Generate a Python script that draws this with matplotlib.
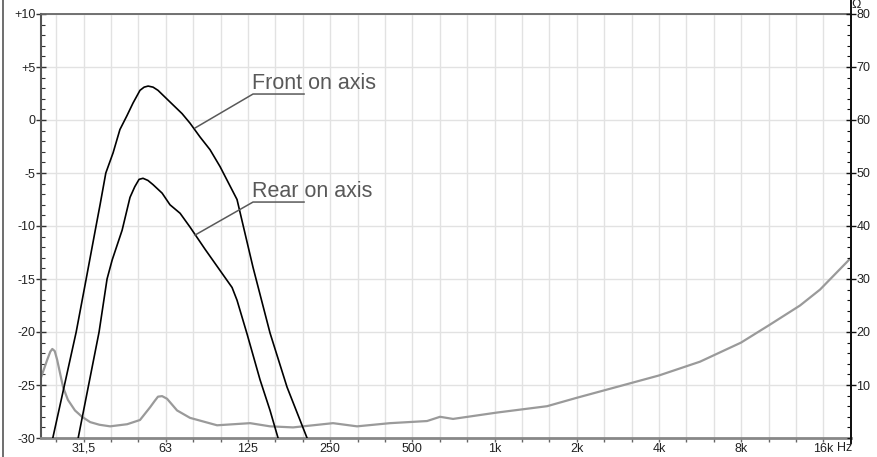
import matplotlib
matplotlib.use('Agg')
import matplotlib.pyplot as plt
from matplotlib.lines import Line2D
from matplotlib.ticker import MultipleLocator, FixedLocator

plt.rcParams['font.family'] = ['Liberation Sans', 'DejaVu Sans']

# frequency response, dB
front_freq = [24.3, 29.6, 32.2, 35.0, 36.2, 38.0, 40.4, 42.8, 45.4, 47.8, 50.7, 52.5, 54.3,
              56.6, 59.0, 65.3, 72.3, 77.3, 84.1, 91.5, 99.6, 114.9, 131.5, 151.8, 175.2, 207.4]
front_db = [-30, -20, -15, -10, -8, -5, -3.1, -0.9, 0.4, 1.6, 2.8, 3.1, 3.2,
            3.1, 2.8, 1.7, 0.6, -0.3, -1.6, -2.8, -4.4, -7.5, -13.9, -20.1, -25.2, -30]

rear_freq = [30.1, 35.9, 38.4, 40.1, 43.6, 46.6, 48.5, 50.3, 52.0, 54.2, 56.6, 61.1, 65.3,
             71.1, 77.3, 87.8, 99.6, 110.2, 114.9, 125.1, 139.5, 151.8, 162.4]
rear_db = [-30, -20, -15, -13.2, -10.4, -7.3, -6.3, -5.6, -5.5, -5.7, -6.1, -6.9, -8.0,
           -8.8, -10.1, -12.2, -14.2, -15.8, -17.0, -20.2, -24.5, -27.4, -30]

# impedance, ohm
imp_freq = [22.0, 23.2, 23.8, 24.2, 24.7, 25.2, 26.5, 27.6, 29.3, 31.1, 33.3, 36.0, 39.4,
            45.5, 50.7, 55.2, 57.4, 59.0, 61.1, 63.7, 69.3, 77.3, 97.1, 128.3, 151.8,
            184.3, 258.2, 316.2, 417.6, 570.5, 636.6, 710.3, 1029, 1570, 2021, 2904,
            4035, 5702, 8058, 10290, 13252, 15687, 20370]
imp_ohm = [11.4, 14.8, 16.3, 16.8, 16.4, 14.8, 9.6, 7.2, 5.2, 4.0, 3.0, 2.5, 2.2,
           2.6, 3.4, 5.8, 7.0, 7.8, 7.9, 7.4, 5.2, 3.8, 2.4, 2.8, 2.2,
           2.0, 2.8, 2.2, 2.8, 3.2, 4.0, 3.6, 4.8, 6.0, 7.6, 9.8,
           11.8, 14.4, 18.0, 21.4, 25.0, 28.0, 34.0]

octave_labels = ['31,5', '63', '125', '250', '500', '1k', '2k', '4k', '8k', '16k']
db_ticks = [-30, -25, -20, -15, -10, -5, 0, 5, 10]
db_labels = ['-30', '-25', '-20', '-15', '-10', '-5', '0', '+5', '+10']
ohm_ticks = [10, 20, 30, 40, 50, 60, 70, 80]

fig = plt.figure(figsize=(8.77, 4.57), dpi=100)
ax = fig.add_axes([41 / 877, 1 - 438 / 457, 810 / 877, 424 / 457])
ax2 = ax.twinx()

ax.set_xscale('log')
ax.set_xlim(22.0, 20370)
ax.set_ylim(-30, 10)
ax2.set_ylim(0, 80)

# third octave grid, labels on octaves
thirds = [31.5 * 2 ** (k / 3) for k in range(-1, 28)]
labels = []
for k in range(-1, 28):
    labels.append(octave_labels[k // 3] if k % 3 == 0 else '')
ax.xaxis.set_major_locator(FixedLocator(thirds))
ax.set_xticklabels(labels)
ax.xaxis.set_minor_locator(FixedLocator([]))
ax.tick_params(axis='x', which='major', direction='out', length=3, width=1,
               color='#666666', labelsize=9, labelcolor='#222222', pad=0.5)

ax.set_yticks(db_ticks)
ax.set_yticklabels(db_labels)
ax.yaxis.set_minor_locator(MultipleLocator(1))
ax.tick_params(axis='y', which='major', direction='inout', length=7, width=1,
               color='#333333', labelsize=9, labelcolor='#222222', pad=0.5)
ax.tick_params(axis='y', which='minor', direction='in', length=3, width=0.8, color='#333333')

ax2.set_yticks(ohm_ticks)
ax2.yaxis.set_minor_locator(MultipleLocator(2))
ax2.tick_params(axis='y', which='major', direction='inout', length=7, width=1,
                color='#111111', labelsize=9, labelcolor='#222222', pad=0.5)
ax2.tick_params(axis='y', which='minor', direction='in', length=3, width=0.8, color='#111111')

ax.grid(True, which='major', color='#e2e2e2', linewidth=1)
ax.set_axisbelow(True)

for s in ['left', 'right', 'top', 'bottom']:
    ax2.spines[s].set_visible(False)
ax2.spines['right'].set_visible(True)
ax2.spines['right'].set_color('#111111')
ax2.spines['right'].set_linewidth(1.4)
ax.spines['right'].set_visible(False)
ax.spines['left'].set_color('#555555')
ax.spines['left'].set_linewidth(1.5)
ax.spines['top'].set_color('#666666')
ax.spines['top'].set_linewidth(1.3)
ax.spines['bottom'].set_color('#888888')
ax.spines['bottom'].set_linewidth(2)

# impedance drawn in ohm through the right axis scale
ax.plot(imp_freq, imp_ohm, color='#9a9a9a', linewidth=1.6, transform=ax2.transData,
        zorder=2, solid_joinstyle='round')
ax.plot(front_freq, front_db, color='black', linewidth=1.2, zorder=3, solid_joinstyle='round')
ax.plot(rear_freq, rear_db, color='black', linewidth=1.2, zorder=3, solid_joinstyle='round')

# labels with leader lines
ann_color = '#595959'
ax.plot([80.7, 131.5, 202.2], [-0.75, 2.45, 2.45], color=ann_color, linewidth=1.1, zorder=4)
ax.text(130.4, 2.92, 'Front on axis', fontsize=15.5, color=ann_color, va='baseline', ha='left')
ax.plot([80.7, 131.5, 202.2], [-10.85, -7.74, -7.74], color=ann_color, linewidth=1.1, zorder=4)
ax.text(130.4, -7.24, 'Rear on axis', fontsize=15.5, color=ann_color, va='baseline', ha='left')

ax.annotate('Hz', xy=(1, 0), xycoords='axes fraction', xytext=(-14, -13),
            textcoords='offset pixels', fontsize=9, color='#222222', ha='left', va='baseline')
fig.text(856 / 877, 1 - 5 / 457, 'Ω', ha='center', va='center', fontsize=9, color='#222222')

# outer frame line and extended right axis line
fig.add_artist(Line2D([2.5 / 877, 2.5 / 877], [0, 1], color='#555555', linewidth=1.2))
fig.add_artist(Line2D([851 / 877, 851 / 877], [1 - 443 / 457, 1], color='#111111', linewidth=1.4))

fig.savefig('out.png', dpi=100)
